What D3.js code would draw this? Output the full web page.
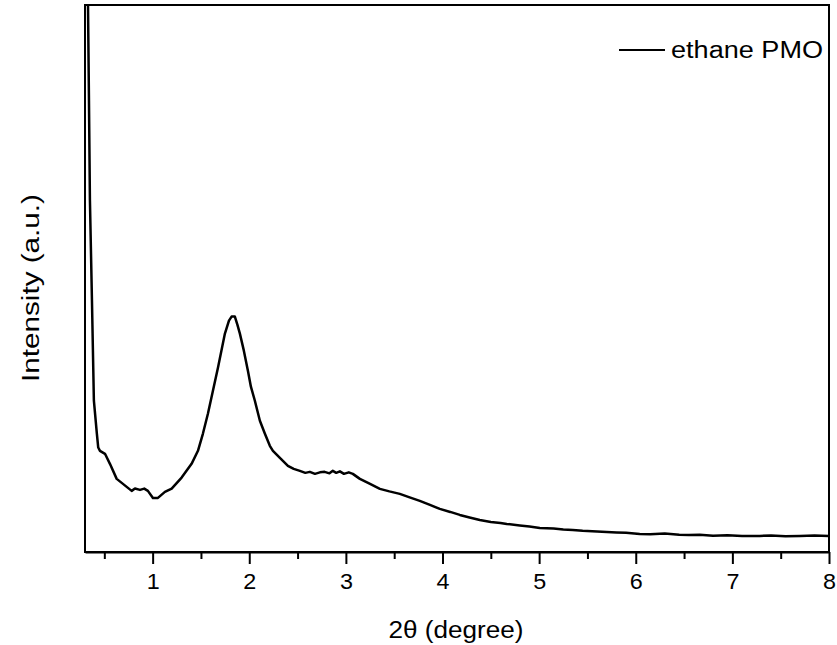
<!DOCTYPE html>
<html>
<head>
<meta charset="utf-8">
<script src="https://cdn.jsdelivr.net/npm/d3@7"></script>
<style>
  body { margin: 0; background: #fff; }
  svg { display: block; font-family: "Liberation Sans", Arial, sans-serif; }
  .axis path, .axis line { stroke: #000; stroke-width: 2px; }
  .axis text { font-size: 22px; fill: #000; }
  .xrdLine { fill: none; stroke: #000; stroke-width: 2.5px; stroke-linejoin: round; }
</style>
</head>
<body>
<svg width="837" height="645"></svg>
<script>
// 2theta (degree) values
var twoTheta = [0.315, 0.331, 0.341, 0.351, 0.372, 0.392, 0.423, 0.437, 0.455, 0.507,
  0.558, 0.628, 0.693, 0.783, 0.817, 0.869, 0.913, 0.951, 1.003, 1.055,
  1.127, 1.197, 1.300, 1.403, 1.469, 1.520, 1.572, 1.624, 1.676, 1.748,
  1.790, 1.817, 1.851, 1.877, 1.903, 1.944, 1.986, 2.017, 2.058, 2.110,
  2.162, 2.213, 2.245, 2.317, 2.400, 2.460, 2.524, 2.580, 2.627, 2.680,
  2.731, 2.780, 2.830, 2.865, 2.900, 2.938, 2.980, 3.030, 3.072, 3.145,
  3.250, 3.352, 3.450, 3.558, 3.660, 3.765, 3.870, 3.972, 4.080, 4.179,
  4.280, 4.386, 4.500, 4.600, 4.665, 4.800, 4.900, 5.007, 5.150, 5.250,
  5.348, 5.450, 5.550, 5.700, 5.800, 5.900, 6.041, 6.150, 6.300, 6.450,
  6.550, 6.662, 6.800, 6.950, 7.100, 7.283, 7.400, 7.550, 7.700, 7.850, 7.997];

// intensity (a.u.)
var intensity = [5710, 5460, 4510, 3510, 2510, 1510, 1180, 1043, 1010, 980,
  880, 730, 680, 610, 633, 620, 633, 610, 540, 540,
  600, 633, 743, 880, 1010, 1180, 1380, 1610, 1840, 2180,
  2310, 2350, 2350, 2270, 2180, 2010, 1810, 1650, 1510, 1310,
  1180, 1060, 1010, 940, 860, 830, 810, 790, 800, 780,
  795, 800, 785, 810, 790, 805, 780, 795, 780, 730,
  680, 630, 605, 580, 545, 510, 470, 430, 400, 370,
  345, 320, 300, 290, 280, 265, 255, 240, 235, 225,
  220, 212, 208, 200, 195, 192, 180, 178, 185, 172,
  170, 172, 162, 168, 160, 160, 165, 158, 160, 164, 160];

var xTicks = [1, 2, 3, 4, 5, 6, 7, 8];
var xMinorTicks = [0.5, 1.5, 2.5, 3.5, 4.5, 5.5, 6.5, 7.5];
var seriesName = "ethane PMO";

var data = twoTheta.map(function(d, i) { return {angle: d, value: intensity[i]}; });

var svg = d3.select("svg"),
    margin = {top: 5, right: 8, bottom: 93, left: 85},
    width = +svg.attr("width") - margin.left - margin.right,
    height = +svg.attr("height") - margin.top - margin.bottom;

var x = d3.scaleLinear().domain([0.3, 8]).range([0, width]),
    y = d3.scaleLinear().domain([0, 5460]).range([height, 0]);

var line = d3.line()
    .x(function(d) { return x(d.angle); })
    .y(function(d) { return y(d.value); });

svg.append("defs").append("clipPath")
    .attr("id", "clip")
  .append("rect")
    .attr("width", width)
    .attr("height", height);

var g = svg.append("g")
    .attr("transform", "translate(" + margin.left + "," + margin.top + ")");

g.append("path")
    .datum(data)
    .attr("class", "xrdLine")
    .attr("clip-path", "url(#clip)")
    .attr("d", line);

// frame
g.append("rect")
    .attr("width", width)
    .attr("height", height)
    .attr("fill", "none")
    .attr("stroke", "#000")
    .attr("stroke-width", 2);

g.append("g")
    .attr("class", "axis")
    .attr("transform", "translate(0," + height + ")")
    .call(d3.axisBottom(x).tickValues(xMinorTicks).tickSize(7).tickFormat(""))
    .call(function(s) { s.select(".domain").remove(); });

var xAxisG = g.append("g")
    .attr("class", "axis")
    .attr("transform", "translate(0," + height + ")")
    .call(d3.axisBottom(x).tickValues(xTicks).tickSize(12).tickSizeOuter(0).tickPadding(9).tickFormat(d3.format("d")));
xAxisG.selectAll("text").attr("textLength", 13).attr("lengthAdjust", "spacingAndGlyphs");

svg.append("text")
    .attr("x", 456)
    .attr("y", 638)
    .attr("text-anchor", "middle")
    .attr("textLength", 135)
    .attr("lengthAdjust", "spacingAndGlyphs")
    .style("font-size", "23px")
    .text("2\u03b8 (degree)");

svg.append("text")
    .attr("transform", "rotate(-90)")
    .attr("x", -288)
    .attr("y", 39)
    .attr("text-anchor", "middle")
    .attr("textLength", 188)
    .attr("lengthAdjust", "spacingAndGlyphs")
    .style("font-size", "23px")
    .text("Intensity (a.u.)");

// legend
var legend = svg.append("g");
legend.append("line")
    .attr("x1", 619).attr("x2", 665)
    .attr("y1", 50).attr("y2", 50)
    .attr("stroke", "#000")
    .attr("stroke-width", 2);
legend.append("text")
    .attr("x", 671)
    .attr("y", 58)
    .attr("textLength", 152)
    .attr("lengthAdjust", "spacingAndGlyphs")
    .style("font-size", "23px")
    .text(seriesName);
</script>
</body>
</html>
